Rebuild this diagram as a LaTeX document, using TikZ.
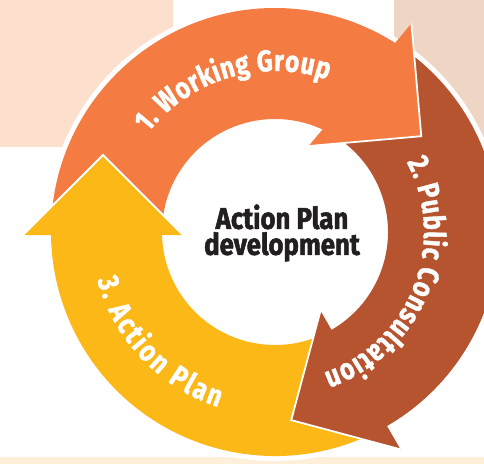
\documentclass[tikz,border=0pt]{standalone}
\usepackage{fontspec}
\newfontfamily\cfont{Fira Sans}[FakeStretch=0.82,FakeBold=1.2]
\newfontfamily\ctrfont{Fira Sans}[FakeStretch=0.86,FakeBold=1.8]
\usetikzlibrary{calc,decorations.text}
\definecolor{orangeA}{HTML}{F47B42}
\definecolor{brownA}{HTML}{B75430}
\definecolor{yellowA}{HTML}{FBB817}
\definecolor{peachL}{HTML}{FCE0CD}
\definecolor{peachR}{HTML}{EED5C4}
\definecolor{creamB}{HTML}{FEEFD8}
\definecolor{inkA}{HTML}{231F20}
\newcommand\arcfont{\cfont\bfseries\fontsize{30}{30}\selectfont}
\begin{document}
\begin{tikzpicture}[x=1pt,y=1pt,
  headedge/.style={draw=white,line width=1.8pt,line join=miter},
  arctext/.style={decorate,decoration={text along path,text align={fit to path},text color=white,text={#1}}}]
\fill[white] (0,0) rectangle (484,464);
\useasboundingbox (0,0) rectangle (484,464);
% background blocks
\fill[peachL] (0,317) rectangle (173,464);
\fill[peachR] (394,264) rectangle (484,464);
\fill[creamB] (0,0) rectangle (484,7);
\coordinate (C) at (275,232);
\fill[white] (C) circle[radius=229];
% arrow bodies
\fill[brownA] ($(C)+(56:224)$) arc[start angle=56,end angle=-62,radius=224]
  -- ($(C)+(-62:113)$) arc[start angle=-62,end angle=56,radius=113] -- cycle;
\fill[yellowA] ($(C)+(296:224)$) arc[start angle=296,end angle=178,radius=224]
  -- ($(C)+(178:113)$) arc[start angle=178,end angle=296,radius=113] -- cycle;
\fill[orangeA] ($(C)+(175:224)$) arc[start angle=175,end angle=55,radius=224]
  -- ($(C)+(55:113)$) arc[start angle=55,end angle=175,radius=113] -- cycle;
% arrow heads
\coordinate (yM) at (103,229);
\coordinate (yO) at ($(yM)+(180:80)$);
\coordinate (yI) at ($(yM)+(0:80)$);
\coordinate (yT) at ($(yM)+(90:80)$);
\coordinate (oM) at ($(C)+(60:170)$);
\coordinate (oO) at ($(oM)+(50:80)$);
\coordinate (oI) at ($(oM)+(230:80)$);
\coordinate (oT) at ($(oM)+(-40:80)$);
\coordinate (bM) at ($(C)+(-60:171)$);
\coordinate (bO) at ($(bM)+(-60:80)$);
\coordinate (bI) at ($(bM)+(120:80)$);
\coordinate (bT) at ($(bM)+(-150:80)$);
\fill[yellowA] (yO) -- (yT) -- (yI) -- cycle;
\draw[headedge] (yO) -- (yT) -- (yI);
\fill[orangeA] (oO) -- (oT) -- (oI) -- cycle;
\draw[headedge] (oO) -- (oT) -- (oI);
\fill[brownA] (bO) -- (bT) -- (bI) -- cycle;
\draw[headedge] (bO) -- (bT) -- (bI);
% curved labels
\path[arctext={|\arcfont|1. Working Group}] ($(C)+(142:161)$) arc[start angle=142,end angle=71,radius=161];
\path[arctext={|\arcfont|2. Public Consultation}] ($(C)+(28:149)$) arc[start angle=28,end angle=-71,radius=149];
\path[arctext={|\arcfont|3. Action Plan}] ($(C)+(195:184)$) arc[start angle=195,end angle=252,radius=184];
% centre
\node[font=\ctrfont\bfseries\fontsize{30}{26}\selectfont, text=inkA, align=center, inner sep=0pt] (ctr) at (282,231) {Action Plan\\development};
\end{tikzpicture}
\end{document}
